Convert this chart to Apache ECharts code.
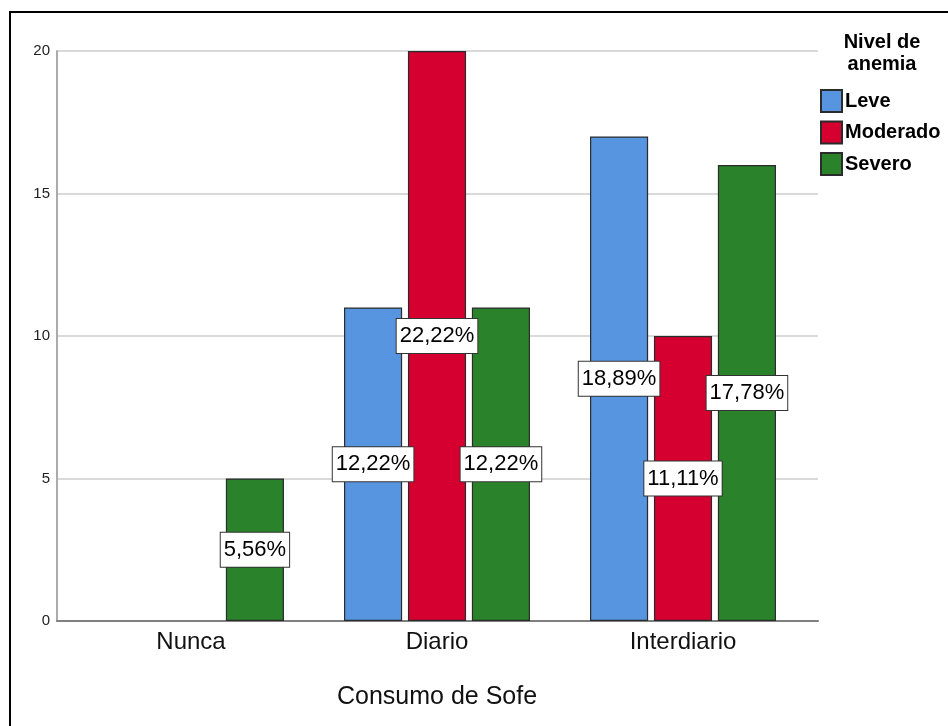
<!DOCTYPE html>
<html>
<head>
<meta charset="utf-8">
<script src="https://cdn.jsdelivr.net/npm/echarts@6/dist/echarts.min.js"></script>
<style>
html,body{margin:0;padding:0;background:#fff;}
#c{width:948px;height:726px;}
</style>
</head>
<body>
<div id="c"></div>
<script>
const categories = ['Nunca', 'Diario', 'Interdiario'];
const seriesNames = ['Leve', 'Moderado', 'Severo'];
const leve = [0, 11, 17];
const moderado = [0, 20, 10];
const severo = [5, 11, 16];
const leveLabels = ['', '12,22%', '18,89%'];
const moderadoLabels = ['', '22,22%', '11,11%'];
const severoLabels = ['5,56%', '12,22%', '17,78%'];
const yMin = 0, yMax = 20, yInterval = 5;
const xTitle = 'Consumo de Sofe';
const legendTitle = 'Nivel de\nanemia';

const colors = ['#5795e0', '#d50030', '#2a832a'];
const FONT = 'Liberation Sans, Arial, sans-serif';

function mk(name, vals, labels, color) {
  return {
    name: name,
    type: 'bar',
    xAxisIndex: 1,
    yAxisIndex: 1,
    barCategoryGap: '24.4%',
    barGap: '10%',
    itemStyle: { color: color, borderColor: '#2b2b2b', borderWidth: 1.2 },
    data: vals.map((v, i) => ({
      value: v,
      itemStyle: v > 0 ? {} : { borderWidth: 0, opacity: 0 },
      label: { show: v > 0 && labels[i] !== '' }
    })),
    label: {
      show: true,
      position: 'inside',
      formatter: p => labels[p.dataIndex],
      backgroundColor: '#fff',
      borderColor: '#333',
      borderWidth: 1,
      padding: [7, 3, 5, 3],
      lineHeight: 22,
      fontSize: 22,
      fontFamily: FONT,
      color: '#000'
    }
  };
}

const chart = echarts.init(document.getElementById('c'), null, { renderer: 'canvas' });
chart.setOption({
  animation: false,
  backgroundColor: '#fff',
  grid: [
    { left: 57, top: 51, width: 761, height: 570 },
    { left: 68, top: 51, width: 738, height: 570 }
  ],
  xAxis: [
    {
      gridIndex: 0, type: 'value', min: 0, max: 1,
      axisLine: { show: true, lineStyle: { color: '#808080', width: 2 } },
      axisTick: { show: false }, axisLabel: { show: false }, splitLine: { show: false }
    },
    {
      gridIndex: 1, type: 'category', data: categories,
      axisLine: { show: false }, axisTick: { show: false },
      axisLabel: { fontSize: 24, fontFamily: FONT, color: '#111', margin: 9 },
      name: xTitle, nameLocation: 'middle', nameGap: 64,
      nameTextStyle: { fontSize: 25, fontFamily: FONT, color: '#111' }
    }
  ],
  yAxis: [
    {
      gridIndex: 0, type: 'value', min: yMin, max: yMax, interval: yInterval,
      axisLine: { show: true, lineStyle: { color: '#ababab', width: 2 } },
      axisTick: { show: false },
      axisLabel: { fontSize: 15, fontFamily: FONT, color: '#222', margin: 7 },
      splitLine: { show: true, lineStyle: { color: '#d9d9d9', width: 2 } }
    },
    {
      gridIndex: 1, type: 'value', min: yMin, max: yMax, interval: yInterval,
      show: false, splitLine: { show: false }
    }
  ],
  legend: {
    orient: 'vertical',
    left: 820,
    top: 89,
    padding: 0,
    itemWidth: 21,
    itemHeight: 22,
    itemGap: 7.5,
    icon: 'rect',
    data: seriesNames,
    textStyle: { fontSize: 20, lineHeight: 22, fontWeight: 'bold', fontFamily: FONT, color: '#000', padding: [0, 0, 0, -2] }
  },
  graphic: [
    {
      type: 'rect', silent: true, z: 100,
      shape: { x: 10, y: 12, width: 960, height: 740 },
      style: { fill: 'none', stroke: '#000', lineWidth: 2 }
    },
    {
      type: 'text', silent: true,
      style: {
        text: legendTitle, x: 882, y: 31, align: 'center',
        font: 'bold 20px Liberation Sans, Arial, sans-serif', lineHeight: 22, fill: '#000'
      }
    }
  ],
  series: [
    mk(seriesNames[0], leve, leveLabels, colors[0]),
    mk(seriesNames[1], moderado, moderadoLabels, colors[1]),
    mk(seriesNames[2], severo, severoLabels, colors[2])
  ]
});
</script>
</body>
</html>
